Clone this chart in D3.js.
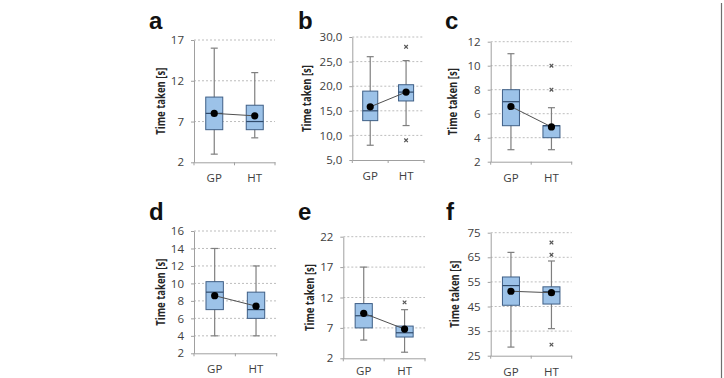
<!DOCTYPE html>
<meta charset="utf-8">
<head>
    <script src="https://d3js.org/d3.v7.min.js"></script>
    <style>
        body { margin: 0; background: #fff; }
        svg text { font-family: "Open Sans", "Noto Sans", sans-serif; }
    </style>
</head>
<body>
<div id="chart"></div>
<script>

    // data
    const panels = ["a", "b", "c", "d", "e", "f"]
    const groups = ["GP", "HT"]

    const whiskerLow  = [[3, 5], [8, 12], [3, 3], [4, 4], [5, 3], [28.5, 36]]
    const q1          = [[6, 6], [13, 17], [5, 4], [7, 6], [7, 5.5], [45.5, 46]]
    const median      = [[8, 7], [15, 18.8], [7, 5], [9, 7], [9, 6.2], [53.5, 51]]
    const q3          = [[10, 9], [19, 20.3], [8, 5], [10.2, 9], [11, 7.3], [57, 53]]
    const whiskerHigh = [[16, 13], [26, 25.2], [11, 6.5], [14, 12], [17, 10], [67, 63.5]]
    const means       = [[8, 7.7], [15.8, 18.8], [6.6, 4.9], [8.6, 7.4], [9.4, 6.8], [51.2, 50.6]]
    const outliers    = [[[], []], [[], [28, 9]], [[], [8, 10]], [[], []], [[], [11.2]], [[], [29.5, 66, 71]]]

    const yTicks = [
        [2, 7, 12, 17],
        [5, 10, 15, 20, 25, 30],
        [2, 4, 6, 8, 10, 12],
        [2, 4, 6, 8, 10, 12, 14, 16],
        [2, 7, 12, 17, 22],
        [25, 35, 45, 55, 65, 75]
    ]
    const decimalComma = [false, true, false, false, false, false]
    const yLabel = "Time taken [s]"

    // layout of each small plot (pad = gap between axis and group names)
    const frames = [
        {x0: 194, x1: 275, y0: 40, y1: 162.3, lx: 161, px: 149, py: 29, pad: 12},
        {x0: 352.3, x1: 424, y0: 37, y1: 160, lx: 307, px: 298, py: 29, pad: 12},
        {x0: 490.7, x1: 571.7, y0: 41.7, y1: 161.7, lx: 453, px: 445, py: 29, pad: 12},
        {x0: 194, x1: 276.7, y0: 231, y1: 353.3, lx: 161, px: 149, py: 220, pad: 12},
        {x0: 343.3, x1: 425, y0: 236.7, y1: 358.3, lx: 310, px: 298, py: 220, pad: 9},
        {x0: 490.7, x1: 571.7, y0: 232.7, y1: 355.7, lx: 455, px: 446, py: 220, pad: 12}
    ]

    const svg = d3.select("#chart").append("svg")
        .attr("width", 724)
        .attr("height", 378)

    // thin frame line at the right edge of the scan
    svg.append("line")
        .attr("x1", 721.5).attr("x2", 721.5)
        .attr("y1", 3).attr("y2", 378)
        .attr("stroke", "#6e6e6e")
        .attr("stroke-width", 1.2)

    const fmtDot = d3.format(".1f")

    panels.forEach((p, i) => {
        const f = frames[i]
        const ticks = yTicks[i]

        const y = d3.scaleLinear()
            .domain([ticks[0], ticks[ticks.length - 1]])
            .range([f.y1, f.y0])

        const x = d3.scaleBand()
            .domain(groups)
            .range([f.x0, f.x1])
            .padding(0)

        const g = svg.append("g")

        // gridlines
        g.selectAll(".grid")
            .data(ticks.slice(1))
            .enter().append("line")
            .attr("x1", f.x0).attr("x2", f.x1)
            .attr("y1", d => y(d)).attr("y2", d => y(d))
            .attr("stroke", "#bdbdbd")
            .attr("stroke-width", 1)
            .attr("stroke-dasharray", "2,2")

        // y axis
        const leftAxis = d3.axisLeft(y)
            .tickValues(ticks)
            .tickSizeInner(3)
            .tickSizeOuter(0)
            .tickPadding(7)
            .tickFormat(d => decimalComma[i] ? fmtDot(d).replace(".", ",") : d)
        const ya = g.append("g")
            .attr("transform", `translate(${f.x0},0)`)
            .call(leftAxis)
        ya.select(".domain").attr("stroke", "#a0a0a0")
        ya.selectAll(".tick line").attr("stroke", "#a0a0a0")
        ya.selectAll(".tick text")
            .attr("fill", "#404040")
            .style("font-size", "11.5px")

        // x axis
        const bottomAxis = d3.axisBottom(x).tickSize(0).tickPadding(f.pad)
        const xa = g.append("g")
            .attr("transform", `translate(0,${f.y1})`)
            .call(bottomAxis)
        xa.select(".domain").attr("stroke", "#a0a0a0")
        xa.selectAll(".tick text")
            .attr("fill", "#404040")
            .style("font-size", "11.5px")
        g.selectAll(".xtick")
            .data([f.x0, x("HT"), f.x1])
            .enter().append("line")
            .attr("x1", d => d).attr("x2", d => d)
            .attr("y1", f.y1).attr("y2", f.y1 + 3)
            .attr("stroke", "#a0a0a0")

        // axis title
        g.append("text")
            .attr("transform", `translate(${f.lx},${(f.y0 + f.y1) / 2}) rotate(-90)`)
            .attr("text-anchor", "middle")
            .attr("dy", "0.35em")
            .attr("textLength", 67)
            .attr("lengthAdjust", "spacingAndGlyphs")
            .style("font-size", "11.5px")
            .style("font-weight", "bold")
            .attr("fill", "#262626")
            .text(yLabel)

        // panel letter
        g.append("text")
            .attr("x", f.px).attr("y", f.py)
            .style("font-family", "'Liberation Sans', Arial, sans-serif")
            .style("font-size", "24px")
            .style("font-weight", "bold")
            .attr("fill", "#111")
            .text(p)

        const bw = x.bandwidth() * 0.42
        const cap = 7

        groups.forEach((grp, j) => {
            const cx = x(grp) + x.bandwidth() / 2

            // whiskers
            g.append("line")
                .attr("x1", cx).attr("x2", cx)
                .attr("y1", y(whiskerLow[i][j])).attr("y2", y(whiskerHigh[i][j]))
                .attr("stroke", "#7f7f7f").attr("stroke-width", 1.2)
            ;[whiskerLow[i][j], whiskerHigh[i][j]].forEach(v => {
                g.append("line")
                    .attr("x1", cx - cap / 2).attr("x2", cx + cap / 2)
                    .attr("y1", y(v)).attr("y2", y(v))
                    .attr("stroke", "#7f7f7f").attr("stroke-width", 1.2)
            })

            // box
            g.append("rect")
                .attr("x", cx - bw / 2)
                .attr("y", y(q3[i][j]))
                .attr("width", bw)
                .attr("height", y(q1[i][j]) - y(q3[i][j]))
                .attr("fill", "#9cc2e8")
                .attr("stroke", "#3f5f86")
                .attr("stroke-width", 1)

            g.append("line")
                .attr("x1", cx - bw / 2).attr("x2", cx + bw / 2)
                .attr("y1", y(median[i][j])).attr("y2", y(median[i][j]))
                .attr("stroke", "#2f4a6b").attr("stroke-width", 1.2)

            // outliers
            outliers[i][j].forEach(v => {
                const s = 1.8
                g.append("path")
                    .attr("d", `M${cx - s},${y(v) - s}L${cx + s},${y(v) + s}M${cx - s},${y(v) + s}L${cx + s},${y(v) - s}`)
                    .attr("stroke", "#555").attr("stroke-width", 1.2)
            })
        })

        // mean line and dots
        const meanData = groups.map((grp, j) => ({grp: grp, v: means[i][j]}))
        g.append("path")
            .datum(meanData)
            .attr("fill", "none")
            .attr("stroke", "#505050")
            .attr("stroke-width", 1)
            .attr("d", d3.line()
                .x(d => x(d.grp) + x.bandwidth() / 2)
                .y(d => y(d.v)))
        g.selectAll(".mean")
            .data(meanData)
            .enter().append("circle")
            .attr("cx", d => x(d.grp) + x.bandwidth() / 2)
            .attr("cy", d => y(d.v))
            .attr("r", 3.6)
            .attr("fill", "#000")
    })

</script>
</body>
